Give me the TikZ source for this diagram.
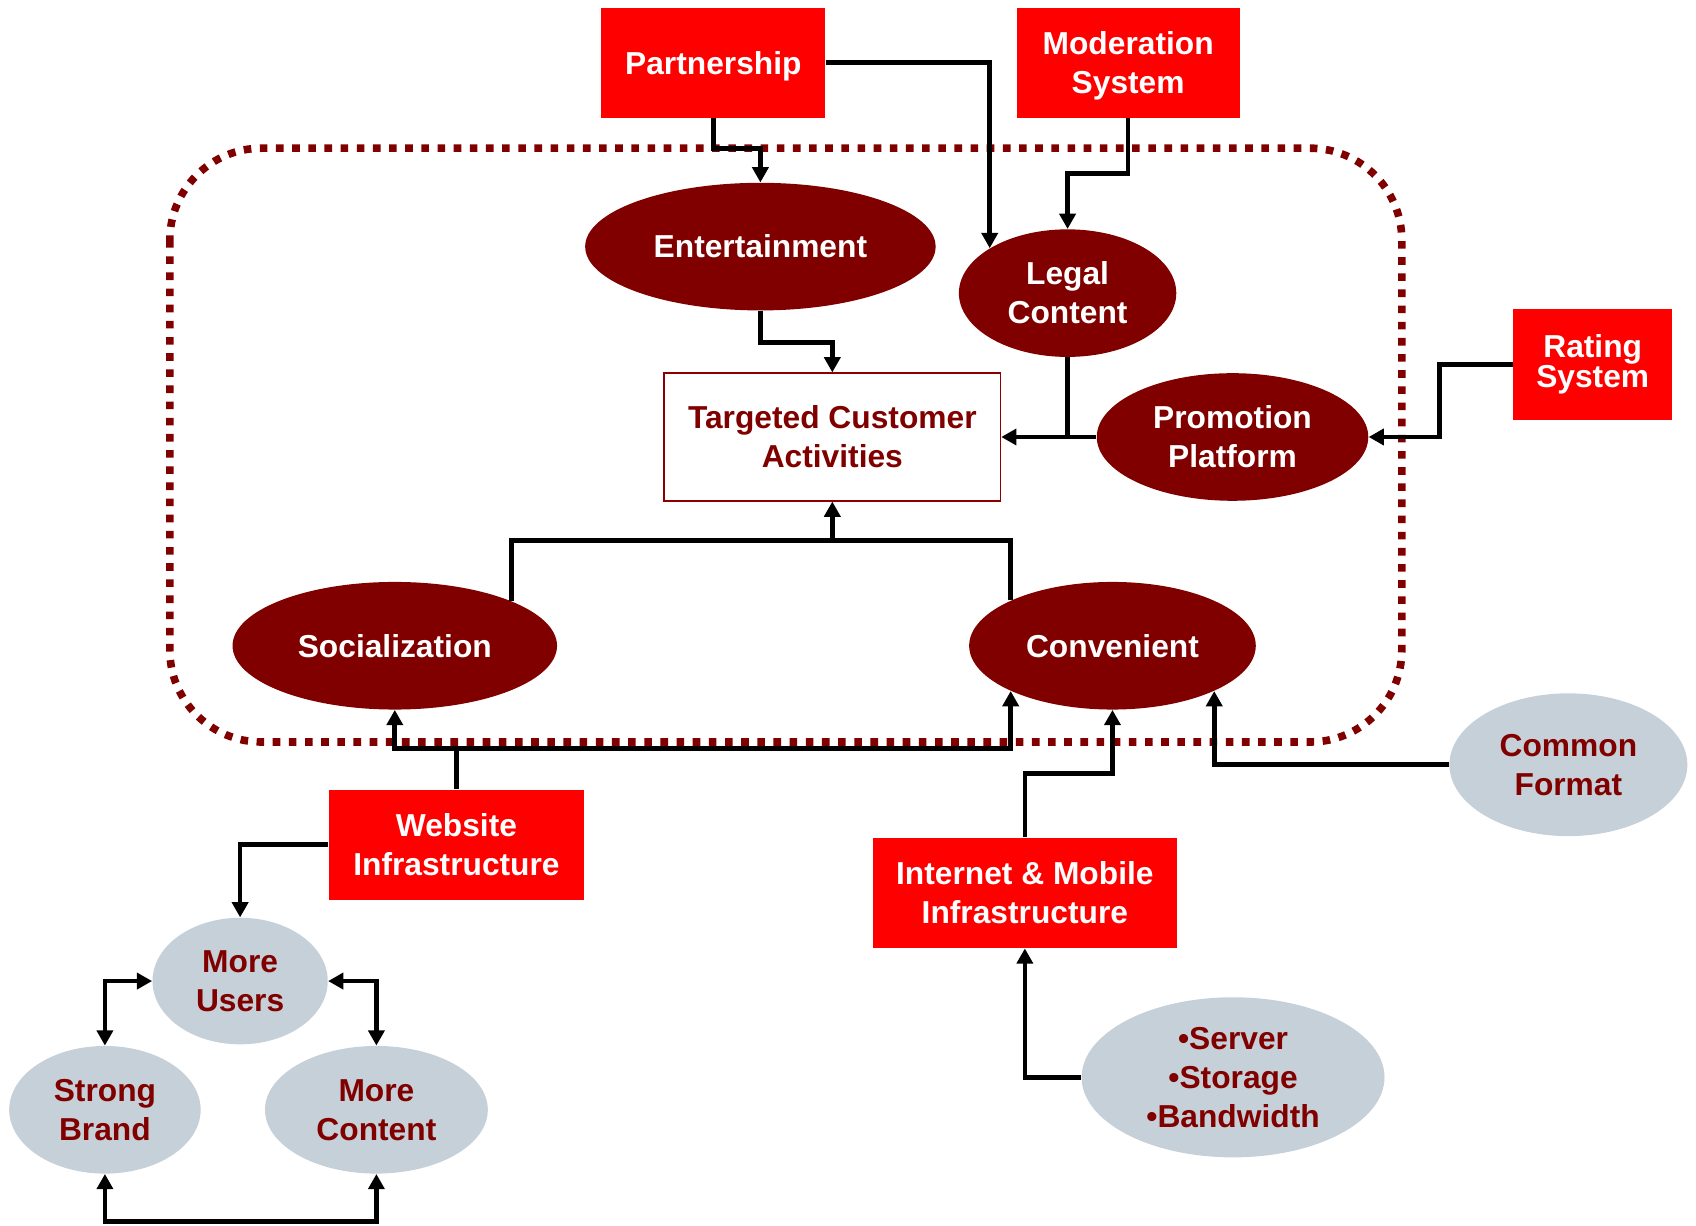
\documentclass[tikz,border=0pt]{standalone}
\usepackage{fontspec}
\setmainfont{Liberation Sans}
\usepackage{tikz}
\usetikzlibrary{arrows.meta,shapes.geometric,calc}
\definecolor{maroon}{HTML}{800000}
\definecolor{fog}{HTML}{C6D0D8}
\definecolor{alarm}{HTML}{FF0000}
\tikzstyle{label}=[align=center,inner sep=0pt,font=\bfseries\fontsize{16.7}{20.5}\selectfont]
\tikzstyle{redbox}=[label,rectangle,fill=alarm,text=white,minimum height=2.04cm]
\tikzstyle{activity}=[label,ellipse,fill=maroon,text=white,minimum height=2.36cm]
\tikzstyle{factor}=[label,ellipse,fill=fog,text=maroon]
\tikzstyle{target}=[label,rectangle,draw=maroon!90!red,line width=0.8pt,fill=white,text=maroon]
\tikzstyle{link} = [draw,line width=2.45pt]
\tikzstyle{edge} = [link,-{Triangle[length=8pt,width=8.4pt]}]
\tikzstyle{twoway} = [link,{Triangle[length=8pt,width=8.4pt]}-{Triangle[length=8pt,width=8.4pt]}]
\tikzstyle{frame} = [draw=maroon,line width=4pt,dash pattern=on 4pt off 4.5pt,rounded corners=1.7cm]

\begin{document}
\begin{tikzpicture}[x=0.02cm,y=-0.02cm]
    \useasboundingbox (0,0) rectangle (1568,1133);

    % dotted frame round the activities
    \path[frame] (157,137) rectangle (1296,686);

    \foreach \pos/ \name/ \w/ \td/ \txt in {{(659.5,58)/part/207/0pt/Partnership},{(1043,58)/mod/206/-1pt/Moderation\\System},
        {(422,781)/web/236/0pt/Website\\Infrastructure},{(947.5,825.5)/inet/281/0pt/Internet \& Mobile\\Infrastructure}}
        \node[redbox,minimum width=\w*0.02cm,text depth=\td] (\name) at \pos {\txt};
    \node[redbox,minimum width=2.94cm,font=\bfseries\fontsize{16.7}{16}\selectfont] (rating) at (1472.5,337) {Rating\\System};

    \node[target,minimum width=6.22cm,minimum height=2.36cm] (tca) at (769.5,404) {Targeted Customer\\Activities};

    \foreach \pos/ \name/ \w/ \txt in {{(703,228)/ent/324/Entertainment},{(987,271)/legal/201/Legal\\Content},
        {(1139.5,404)/promo/251/Promotion\\Platform},{(365,597)/social/300/Socialization},{(1028.5,597)/conv/265/Convenient}}
        \node[activity,minimum width=\w*0.02cm] (\name) at \pos {\txt};

    \foreach \pos/ \name/ \w/ \h/ \txt in {{(1450,707)/common/220/132/Common\\Format},
        {(1140,996)/server/280/148/•Server\\•Storage\\•Bandwidth},{(222,907)/users/162/117/More\\Users},
        {(97,1026)/brand/177/118/Strong\\Brand},{(348,1026)/content/206/118/More\\Content}}
        \node[factor,minimum width=\w*0.02cm,minimum height=\h*0.02cm] (\name) at \pos {\txt};

    % into the activities
    \path[edge] (part.south) -- ++(0,28) -| (ent.north);
    \path[edge] (part.east) -| (legal.150);
    \path[edge] (mod.south) -- ++(0,51) -| (legal.north);
    \path[edge] (ent.south) -- ++(0,29) -| (tca.north);
    \path[link] (legal.south) -- (legal.south |- tca.east);
    \path[edge] (promo.west) -- (tca.east);
    \path[edge] (rating.west) -- ++(-68,0) |- (promo.east);

    \coordinate (tj) at (769.5,500);
    \path[edge] (social.21) |- (tj) -- (tca.south);
    \path[link] (conv.156) |- (tj);

    % infrastructure
    \coordinate (wj) at (422,692);
    \path[edge] (web.north) -- (wj) -| (social.south);
    \path[edge] (wj) -| (conv.204);
    \path[edge] (inet.north) -- ++(0,-59) -| (conv.south);
    \path[edge] (common.west) -| (conv.-24);
    \path[edge] (server.west) -| (inet.south);
    \path[edge] (web.west) -| (users.north);

    \path[twoway] (users.west) -| (brand.north);
    \path[twoway] (users.east) -| (content.north);
    \path[twoway] (brand.south) -- ++(0,44) -| (content.south);

\end{tikzpicture}
\end{document}
